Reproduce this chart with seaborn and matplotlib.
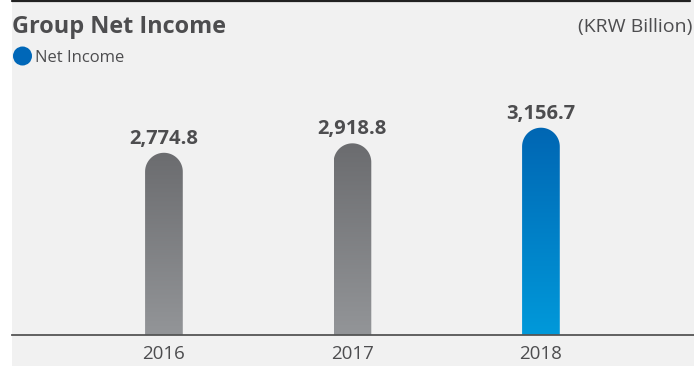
import numpy as np
import pandas as pd
import matplotlib
matplotlib.use("Agg")
import matplotlib.pyplot as plt
from matplotlib.patches import Rectangle, Ellipse, PathPatch
from matplotlib.path import Path
from matplotlib.colors import LinearSegmentedColormap
from matplotlib.lines import Line2D
import seaborn as sns

# ---- data ----
years = ["2016", "2017", "2018"]
net_income = [2774.8, 2918.8, 3156.7]
highlight = [False, False, True]

title = "Group Net Income"
unit_label = "(KRW Billion)"
legend_label = "Net Income"

# ---- style ----
sns.set_theme(style="white")
plt.rcParams["font.family"] = ["Open Sans", "DejaVu Sans"]

TEXT = "#4d4d4f"
BG = "#f1f1f1"
grey_grad = ("#939598", "#6b6c6f")   # bottom, top
blue_grad = ("#0099da", "#0066b3")

W, H, DPI = 694, 366, 100
fig = plt.figure(figsize=(W / DPI, H / DPI), dpi=DPI)
fig.patch.set_facecolor("white")

# panel background and top rule
fig.patches.append(Rectangle((12 / W, 0), 1 - 12 / W, 1, transform=fig.transFigure,
                             facecolor=BG, edgecolor="none", zorder=-10))
fig.lines.append(Line2D([12 / W, 690 / W], [1 - 1 / H, 1 - 1 / H], transform=fig.transFigure,
                        color="#222222", linewidth=1.6))

# plotting area in pixel terms
left_px, right_px, base_px, top_px = 12, 694, 335, 85
ax = fig.add_axes([left_px / W, (H - base_px) / H, (right_px - left_px) / W, (base_px - top_px) / H])
ax.set_facecolor("none")

df = pd.DataFrame({"year": years, "value": net_income})
sns.barplot(data=df, x="year", y="value", ax=ax, width=0.2, color="#939598")

xmin, xmax = -0.806, 2.812
ymax = 3807
ax.set_xlim(xmin, xmax)
ax.set_ylim(0, ymax)

ppx = (right_px - left_px) / (xmax - xmin)   # pixels per x unit
ppy = (base_px - top_px) / ymax              # pixels per y unit

for patch, val, hl in zip(ax.patches, net_income, highlight):
    x0, w = patch.get_x(), patch.get_width()
    h = patch.get_height()
    patch.set_visible(False)
    rx = w / 2
    ry = rx * ppx / ppy
    cx = x0 + rx
    # rounded-top bar outline
    theta = np.linspace(0, np.pi, 60)
    arc = np.column_stack([cx + rx * np.cos(theta), h - ry + ry * np.sin(theta)])
    verts = np.vstack([[x0 + w, 0], [x0 + w, h - ry], arc, [x0, h - ry], [x0, 0], [x0 + w, 0]])
    codes = [Path.MOVETO] + [Path.LINETO] * (len(verts) - 2) + [Path.CLOSEPOLY]
    clip = PathPatch(Path(verts, codes), facecolor="none", edgecolor="none")
    ax.add_patch(clip)
    cmap = LinearSegmentedColormap.from_list("g", blue_grad if hl else grey_grad)
    grad = np.linspace(0, 1, 256).reshape(-1, 1)
    im = ax.imshow(grad, cmap=cmap, origin="lower", aspect="auto",
                   extent=[x0, x0 + w, 0, h], interpolation="bilinear", zorder=2)
    im.set_clip_path(clip)
    ax.text(cx, val + 9 / ppy, f"{val:,.1f}", ha="center", va="baseline",
            fontsize=14.5, fontweight="bold", color=TEXT, zorder=3)

ax.set_xlim(xmin, xmax)
ax.set_ylim(0, ymax)

for s in ["top", "right", "left"]:
    ax.spines[s].set_visible(False)
ax.spines["bottom"].set_color("#555555")
ax.spines["bottom"].set_linewidth(1.3)
ax.set_yticks([])
ax.set_xlabel("")
ax.set_ylabel("")
ax.tick_params(axis="x", length=0, pad=7, labelsize=13.5, labelcolor=TEXT)

# header texts
fig.text(12 / W, 1 - 33 / H, title, ha="left", va="baseline",
         fontsize=16.9, fontweight="bold", color=TEXT)
fig.text(692 / W, 1 - 32 / H, unit_label, ha="right", va="baseline",
         fontsize=14, color=TEXT)
fig.patches.append(Ellipse((22.5 / W, 1 - 56 / H), 19 / W, 19 / H, transform=fig.transFigure,
                           facecolor="#0067b8", edgecolor="none"))
fig.text(35 / W, 1 - 62 / H, legend_label, ha="left", va="baseline",
         fontsize=12, color=TEXT)

fig.savefig("out.png", dpi=DPI, facecolor=fig.get_facecolor())
